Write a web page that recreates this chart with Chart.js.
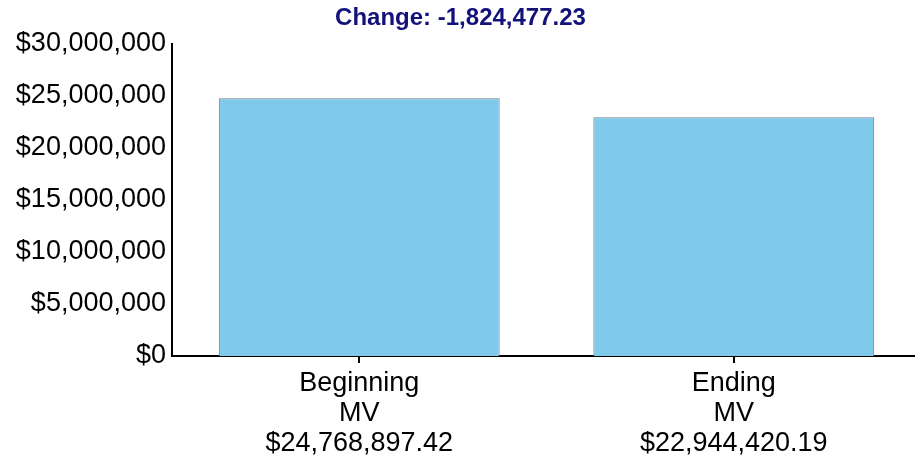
<!DOCTYPE html>
<html>
<head>
<meta charset="utf-8">
<script src="https://cdn.jsdelivr.net/npm/chart.js@4.4.0/dist/chart.umd.min.js"></script>
<style>
  html, body { margin: 0; padding: 0; background: #fff; overflow: hidden; }
  #wrap { width: 921px; height: 462px; position: relative; }
</style>
</head>
<body>
<div id="wrap"><canvas id="grafico"></canvas></div>
<script>
// dados do grafico
const categorias = [['Beginning', 'MV'], ['Ending', 'MV']];
const valores = [24768897.42, 22944420.19];
const variacao = -1824477.23;
const ticksY = [0, 5000000, 10000000, 15000000, 20000000, 25000000, 30000000];

function formatarMoeda(v, casas) {
    return '$' + v.toLocaleString('en-US', { minimumFractionDigits: casas, maximumFractionDigits: casas });
}

function formatarNumero(v) {
    return v.toLocaleString('en-US', { minimumFractionDigits: 2, maximumFractionDigits: 2 });
}

// rotulo do eixo x: nome em duas linhas + valor
const rotulos = categorias.map(function (c, i) {
    return c.concat([formatarMoeda(valores[i], 2)]);
});

const fonte = "'Liberation Sans', Arial, sans-serif";

const ctx = document.getElementById('grafico').getContext('2d');
new Chart(ctx, {
    type: 'bar',
    data: {
        labels: rotulos,
        datasets: [{
            data: valores,
            backgroundColor: '#7fcaea',
            borderColor: '#6f7f88',
            borderWidth: 1,
            barPercentage: 0.75,
            categoryPercentage: 1
        }]
    },
    options: {
        responsive: true,
        maintainAspectRatio: false,
        animation: false,
        layout: { padding: 0 },
        plugins: {
            legend: { display: false },
            tooltip: { enabled: false },
            title: {
                display: true,
                text: 'Change: ' + formatarNumero(variacao),
                color: '#12127a',
                font: { family: fonte, size: 24, weight: 'bold' },
                padding: { top: 4, bottom: 11 }
            }
        },
        scales: {
            x: {
                grid: { display: true, offset: false, drawOnChartArea: false, drawTicks: true, tickLength: 7, color: '#000', lineWidth: 2 },
                border: { display: true, color: '#000', width: 2 },
                ticks: {
                    color: '#000',
                    maxRotation: 0,
                    autoSkip: false,
                    padding: 6,
                    font: { family: fonte, size: 27, lineHeight: 1.11 }
                },
                afterFit: function (escala) { escala.height = 106; }
            },
            y: {
                min: 0,
                max: 30000000,
                afterBuildTicks: function (escala) {
                    escala.ticks = ticksY.map(function (v) { return { value: v }; });
                },
                grid: { display: false, drawTicks: false },
                border: { display: true, color: '#000', width: 2 },
                ticks: {
                    color: '#000',
                    padding: 6,
                    font: { family: fonte, size: 27 },
                    callback: function (v) { return formatarMoeda(v, 0); }
                },
                afterFit: function (escala) { escala.width = 172; }
            }
        }
    }
});
</script>
</body>
</html>
